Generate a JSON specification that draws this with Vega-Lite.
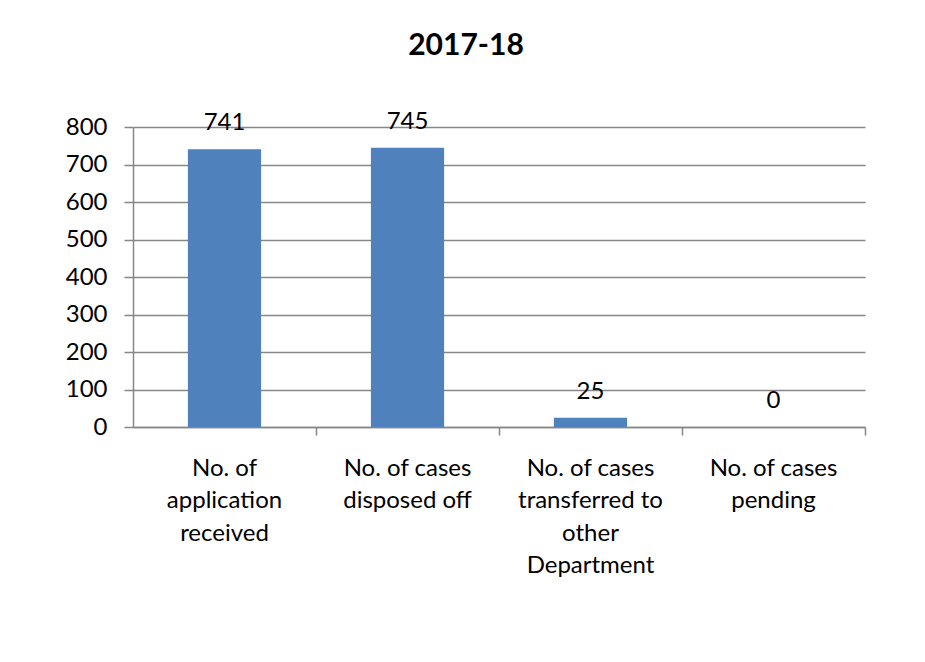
{
  "$schema": "https://vega.github.io/schema/vega-lite/v6.json",
  "width": 732,
  "height": 300,
  "autosize": {"type": "none"},
  "padding": {"left": 133, "top": 127, "right": 60, "bottom": 235},
  "background": "white",
  "title": {
    "text": "2017-18",
    "font": "Lato",
    "fontSize": 30,
    "fontWeight": "bold",
    "color": "black",
    "anchor": "middle",
    "frame": "group",
    "baseline": "alphabetic",
    "offset": 25,
    "dx": -33
  },
  "data": {
    "values": [
      {"category": "No. of|application|received", "value": 741},
      {"category": "No. of cases|disposed off", "value": 745},
      {"category": "No. of cases|transferred to|other|Department", "value": 25},
      {"category": "No. of cases|pending", "value": 0}
    ]
  },
  "encoding": {
    "x": {
      "field": "category",
      "type": "nominal",
      "sort": null,
      "scale": {"paddingInner": 0.6, "paddingOuter": 0.3},
      "axis": {
        "title": null,
        "labelAngle": 0,
        "labelExpr": "split(datum.label, '|')",
        "labelFont": "Lato",
        "labelFontSize": 24,
        "labelColor": "black",
        "labelLineHeight": 32.5,
        "labelBaseline": "top",
        "labelPadding": 21,
        "labelLimit": 0,
        "bandPosition": 1.75,
        "tickSize": 8,
        "tickColor": "#878787",
        "tickWidth": 1.5,
        "domainColor": "#878787",
        "domainWidth": 1.5,
        "grid": false
      }
    },
    "y": {
      "field": "value",
      "type": "quantitative",
      "scale": {"domain": [0, 800]},
      "axis": {
        "title": null,
        "values": [0, 100, 200, 300, 400, 500, 600, 700, 800],
        "labelFont": "Lato",
        "labelFontSize": 24,
        "labelColor": "black",
        "labelPadding": 17,
        "tickSize": 9,
        "tickColor": "#878787",
        "tickWidth": 1.5,
        "domainColor": "#878787",
        "domainWidth": 1.5,
        "grid": true,
        "gridColor": "#878787",
        "gridWidth": 1.5
      }
    }
  },
  "layer": [
    {"mark": {"type": "bar", "color": "#4F81BD"}},
    {
      "mark": {
        "type": "text",
        "font": "Lato",
        "fontSize": 24,
        "color": "black",
        "baseline": "alphabetic",
        "dy": -19
      },
      "encoding": {"text": {"field": "value", "type": "quantitative"}}
    }
  ],
  "config": {"view": {"stroke": null}}
}
